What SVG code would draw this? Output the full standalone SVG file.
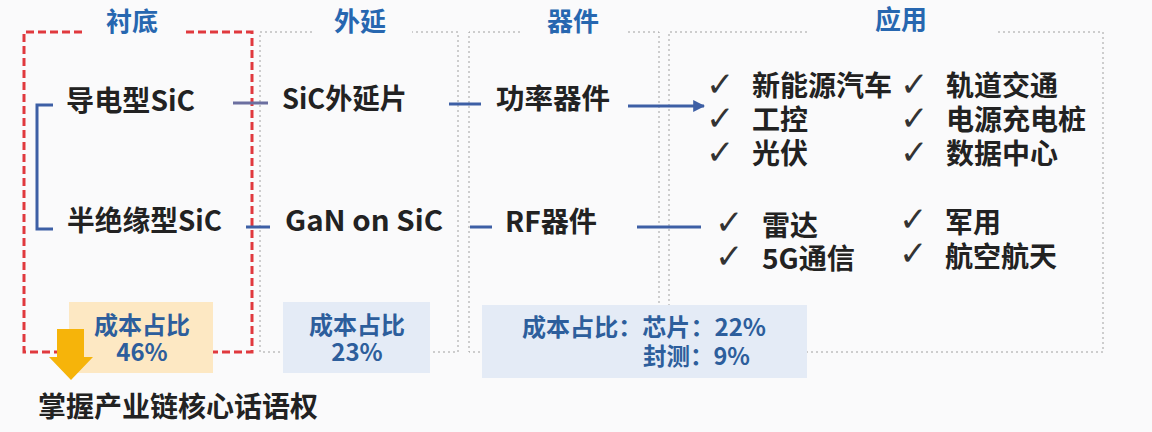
<svg xmlns="http://www.w3.org/2000/svg" width="1152" height="432" viewBox="0 0 1152 432">
<style>
.t{font-family:"Noto Sans CJK SC","Liberation Sans",sans-serif;font-weight:bold;font-size:28px;fill:#222}
.h{font-family:"Noto Sans CJK SC","Liberation Sans",sans-serif;font-weight:bold;font-size:26px;fill:#2767b0}
.c{font-family:"Noto Sans CJK SC","Liberation Sans",sans-serif;font-weight:bold;font-size:24px;fill:#2d5e9c}
.ck{font-family:"DejaVu Sans",sans-serif;font-size:34px;fill:#333}
.red{fill:none;stroke:#e0393e;stroke-width:3;stroke-dasharray:8 4}
.gray{fill:none;stroke:#a0a0a0;stroke-width:1;stroke-dasharray:2 3}
.ln{fill:none;stroke:#3d5fa5;stroke-width:3}
</style>
<defs>
<marker id="ah" viewBox="0 0 10 10" refX="9" refY="5" markerWidth="4" markerHeight="4" orient="auto" markerUnits="strokeWidth">
<path d="M0,0 L10,5 L0,10 z" fill="#3d5fa5"/>
</marker>
</defs>
<rect width="1152" height="432" fill="#fafafb"/>

<g id="frames">
<path class="red" d="M82,32 H24 V352 H252 V32 H183"/>
<path class="gray" d="M312,32 H260 V352 H458 V32 H412"/>
<path class="gray" d="M520,32 H469 V352 H659 V32 H628"/>
<path class="gray" d="M807,32 H669 V352 H1103 V32 H995"/>
</g>

<g id="headers">
<text class="h" x="132" y="31" text-anchor="middle">衬底</text>
<text class="h" x="360" y="31" text-anchor="middle">外延</text>
<text class="h" x="573" y="31" text-anchor="middle">器件</text>
<text class="h" x="901" y="29" text-anchor="middle">应用</text>
</g>

<g id="cost-substrate">
<rect x="69" y="302" width="144" height="71" fill="#fde8c3"/>
<text class="c" x="142" y="334" text-anchor="middle">成本占比</text>
<text class="c" x="142" y="361" text-anchor="middle">46%</text>
</g>
<g id="cost-epi">
<rect x="283" y="302" width="147" height="71" fill="#e4ebf6"/>
<text class="c" x="357" y="334" text-anchor="middle">成本占比</text>
<text class="c" x="357" y="361" text-anchor="middle">23%</text>
</g>
<g id="cost-device">
<rect x="482" y="305" width="325" height="73" fill="#e4ebf6"/>
<text class="c" x="522" y="336" textLength="244" lengthAdjust="spacingAndGlyphs">成本占比：芯片：22%</text>
<text class="c" x="643" y="365" textLength="107" lengthAdjust="spacingAndGlyphs">封测：9%</text>
</g>

<g id="connectors">
<path class="ln" d="M53,105 H37 V229 H53"/>
<path class="ln" d="M233,103 H268" style="stroke:#6b6fa0"/>
<path class="ln" d="M246,227 H270"/>
<path class="ln" d="M449,104 H481"/>
<path class="ln" d="M628,106 H704" marker-end="url(#ah)"/>
<path class="ln" d="M470,227 H492"/>
<path class="ln" d="M637,227 H701"/>
</g>

<g id="n-conductive"><text class="t" x="66" y="111" textLength="129" lengthAdjust="spacingAndGlyphs">导电型SiC</text></g>
<g id="n-semi"><text class="t" x="67" y="231" textLength="155" lengthAdjust="spacingAndGlyphs">半绝缘型SiC</text></g>
<g id="n-sicepi"><text class="t" x="282" y="109" textLength="125" lengthAdjust="spacingAndGlyphs">SiC外延片</text></g>
<g id="n-gan"><text class="t" x="285" y="231" textLength="158" lengthAdjust="spacingAndGlyphs">GaN on SiC</text></g>
<g id="n-power"><text class="t" x="496" y="109" textLength="114" lengthAdjust="spacingAndGlyphs">功率器件</text></g>
<g id="n-rf"><text class="t" x="505" y="232" textLength="92" lengthAdjust="spacingAndGlyphs">RF器件</text></g>

<g id="n-app-power">
<text class="ck" x="706" y="96">✓</text>
<text class="ck" x="706" y="130">✓</text>
<text class="ck" x="706" y="164">✓</text>
<text class="t" x="752" y="96">新能源汽车</text>
<text class="t" x="752" y="130">工控</text>
<text class="t" x="752" y="164">光伏</text>
<text class="ck" x="900" y="96">✓</text>
<text class="ck" x="900" y="130">✓</text>
<text class="ck" x="900" y="164">✓</text>
<text class="t" x="946" y="96">轨道交通</text>
<text class="t" x="946" y="130">电源充电桩</text>
<text class="t" x="946" y="164">数据中心</text>
</g>

<g id="n-app-rf">
<text class="ck" x="715" y="234">✓</text>
<text class="ck" x="715" y="268">✓</text>
<text class="t" x="762" y="236">雷达</text>
<text class="t" x="762" y="269" textLength="93" lengthAdjust="spacingAndGlyphs">5G通信</text>
<text class="ck" x="899" y="231">✓</text>
<text class="ck" x="899" y="265">✓</text>
<text class="t" x="945" y="233">军用</text>
<text class="t" x="945" y="267">航空航天</text>
</g>

<g id="n-arrow">
<path d="M57,329 H84 V357 H93 L71,380 L49,357 H57 Z" fill="#f6b40a"/>
</g>
<g id="n-conclusion">
<text class="t" x="38" y="417" textLength="280" lengthAdjust="spacingAndGlyphs">掌握产业链核心话语权</text>
</g>
</svg>
